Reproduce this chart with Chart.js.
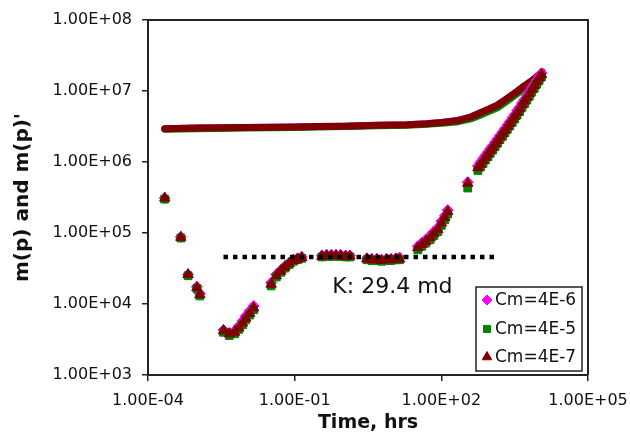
<!DOCTYPE html>
<html>
<head>
<meta charset="utf-8">
<script src="https://cdn.jsdelivr.net/npm/chart.js@4.4.1/dist/chart.umd.min.js"></script>
<style>
  html, body { margin: 0; padding: 0; background: #fff; }
  #wrap { width: 630px; height: 442px; }
</style>
</head>
<body>
<div id="wrap"><canvas id="chart" width="630" height="442"></canvas></div>
<script>
// axis ticks
const xTickValues = [1e-4, 1e-1, 1e2, 1e5];
const xTickLabels = ['1.00E-04', '1.00E-01', '1.00E+02', '1.00E+05'];
const yTickValues = [1e3, 1e4, 1e5, 1e6, 1e7, 1e8];
const yTickLabels = ['1.00E+03', '1.00E+04', '1.00E+05', '1.00E+06', '1.00E+07', '1.00E+08'];

const seriesNames = ['Cm=4E-6', 'Cm=4E-5', 'Cm=4E-7'];

// m(p) vs time
const pressureTime = [2.2e-4, 1e-3, 1e-2, 0.1, 0.3, 1, 5, 20, 50, 100, 200, 400, 620, 900, 1400, 2200, 3500, 5000, 7400, 11500];
const pressureCm6 = [2.95e6, 3.0e6, 3.05e6, 3.1e6, 3.15e6, 3.2e6, 3.3e6, 3.35e6, 3.45e6, 3.6e6, 3.8e6, 4.3e6, 4.9e6, 5.5e6, 6.3e6, 7.8e6, 9.8e6, 1.18e7, 1.42e7, 1.86e7];
const pressureCm5 = [2.9e6, 2.95e6, 3.0e6, 3.05e6, 3.1e6, 3.15e6, 3.25e6, 3.3e6, 3.4e6, 3.5e6, 3.65e6, 4.05e6, 4.55e6, 5.1e6, 5.8e6, 7.2e6, 9.1e6, 1.1e7, 1.33e7, 1.74e7];
const pressureCm7 = [2.95e6, 3.0e6, 3.05e6, 3.1e6, 3.15e6, 3.2e6, 3.3e6, 3.35e6, 3.45e6, 3.6e6, 3.8e6, 4.3e6, 4.9e6, 5.5e6, 6.3e6, 7.8e6, 9.8e6, 1.18e7, 1.42e7, 1.86e7];

// m(p)' vs time
const derivTime = [
  2.2e-4, 4.7e-4, 6.6e-4, 1.0e-3, 1.15e-3,
  3.5e-3, 4.6e-3, 5.9e-3, 7.2e-3, 8.6e-3, 1.0e-2, 1.2e-2, 1.45e-2,
  0.033, 0.042, 0.052, 0.063, 0.077, 0.095, 0.115, 0.14,
  0.36, 0.45, 0.56, 0.7, 0.87, 1.1, 1.35,
  3.0, 3.8, 4.8, 6.0, 7.5, 9.4, 11.8, 14,
  33, 40, 48, 59, 70, 85, 100, 118, 135,
  347, 560, 630, 710, 800, 900, 1000, 1120, 1260, 1410, 1580, 1780, 2000, 2240, 2510,
  2820, 3160, 3550, 3980, 4470, 5010, 5620, 6310, 7080, 7940, 8910, 10000, 11200
];
const derivCm6 = [
  3.1e5, 8.8e4, 2.6e4, 1.75e4, 1.4e4,
  4.3e3, 3.9e3, 4.2e3, 4.9e3, 5.8e3, 6.8e3, 8.0e3, 9.4e3,
  2.0e4, 2.6e4, 3.0e4, 3.4e4, 3.8e4, 4.2e4, 4.4e4, 4.6e4,
  4.8e4, 4.9e4, 4.9e4, 4.9e4, 4.9e4, 4.8e4, 4.8e4,
  4.4e4, 4.3e4, 4.3e4, 4.2e4, 4.3e4, 4.3e4, 4.4e4, 4.5e4,
  6.5e4, 7.3e4, 8.1e4, 9.2e4, 1.05e5, 1.2e5, 1.47e5, 1.75e5, 2.1e5,
  5.2e5, 8.8e5, 9.9e5, 1.11e6, 1.24e6, 1.38e6, 1.54e6, 1.7e6, 1.91e6, 2.12e6, 2.38e6, 2.65e6, 2.97e6, 3.33e6, 3.7e6,
  4.18e6, 4.65e6, 5.3e6, 5.9e6, 6.75e6, 7.6e6, 8.55e6, 9.7e6, 1.1e7, 1.24e7, 1.42e7, 1.6e7, 1.78e7
];
const derivCm5 = [
  3.0e5, 8.5e4, 2.5e4, 1.65e4, 1.3e4,
  4.0e3, 3.6e3, 3.8e3, 4.4e3, 5.1e3, 6.0e3, 7.0e3, 8.3e3,
  1.8e4, 2.4e4, 2.8e4, 3.2e4, 3.6e4, 4.0e4, 4.2e4, 4.4e4,
  4.6e4, 4.7e4, 4.7e4, 4.7e4, 4.7e4, 4.6e4, 4.6e4,
  4.2e4, 4.1e4, 4.1e4, 4.0e4, 4.1e4, 4.1e4, 4.2e4, 4.2e4,
  5.8e4, 6.5e4, 7.2e4, 8.1e4, 9.2e4, 1.05e5, 1.28e5, 1.53e5, 1.85e5,
  4.3e5, 7.6e5, 8.5e5, 9.5e5, 1.07e6, 1.19e6, 1.33e6, 1.47e6, 1.65e6, 1.84e6, 2.07e6, 2.3e6, 2.58e6, 2.9e6, 3.22e6,
  3.63e6, 4.05e6, 4.6e6, 5.15e6, 5.9e6, 6.6e6, 7.5e6, 8.5e6, 9.7e6, 1.09e7, 1.25e7, 1.41e7, 1.58e7
];
const derivCm7 = [
  3.1e5, 8.7e4, 2.6e4, 1.7e4, 1.35e4,
  4.2e3, 3.8e3, 4.0e3, 4.6e3, 5.4e3, 6.3e3, 7.4e3, 8.8e3,
  1.9e4, 2.5e4, 2.9e4, 3.3e4, 3.7e4, 4.1e4, 4.3e4, 4.5e4,
  4.7e4, 4.8e4, 4.8e4, 4.8e4, 4.8e4, 4.7e4, 4.7e4,
  4.3e4, 4.2e4, 4.2e4, 4.1e4, 4.2e4, 4.2e4, 4.3e4, 4.3e4,
  6.2e4, 6.9e4, 7.6e4, 8.6e4, 9.8e4, 1.12e5, 1.38e5, 1.65e5, 2.0e5,
  5.0e5, 8.3e5, 9.3e5, 1.04e6, 1.17e6, 1.3e6, 1.45e6, 1.6e6, 1.8e6, 2.0e6, 2.25e6, 2.5e6, 2.8e6, 3.15e6, 3.5e6,
  3.95e6, 4.4e6, 5.0e6, 5.6e6, 6.4e6, 7.2e6, 8.1e6, 9.2e6, 1.05e7, 1.18e7, 1.35e7, 1.52e7, 1.7e7
];

// radial flow stabilization line
const stabTime = [3.5e-3, 1300];
const stabValue = [4.6e4, 4.6e4];
const stabLabel = 'K: 29.4 md';
const stabLabelAt = { x: 10, y: 1.43e4 };

const colors = ['#ff00ff', '#008000', '#800000'];
const markers = [
  { style: 'rectRot', radius: 5.5 },
  { style: 'rect', radius: 5.5 },
  { style: 'triangle', radius: 6 }
];
const FONT = 'DejaVu Sans';

function toPoints(xs, ys) {
    return xs.map((x, i) => ({ x: x, y: ys[i] }));
}

function pressureSet(values, i, order) {
    return {
        data: toPoints(pressureTime, values),
        showLine: true,
        borderColor: colors[i],
        borderWidth: 7,
        borderJoinStyle: 'round',
        borderCapStyle: 'round',
        pointRadius: 0,
        tension: 0,
        order: order
    };
}

function derivSet(values, i, order) {
    return {
        label: seriesNames[i],
        data: toPoints(derivTime, values),
        pointStyle: markers[i].style,
        pointRadius: markers[i].radius,
        backgroundColor: colors[i],
        borderColor: colors[i],
        borderWidth: 1,
        order: order
    };
}

// frame, annotation and legend box
const decor = {
    id: 'decor',
    beforeDatasetsDraw(chart) {
        const { ctx, chartArea: a } = chart;
        ctx.save();
        ctx.strokeStyle = '#222';
        ctx.lineWidth = 2;
        ctx.beginPath();
        ctx.moveTo(a.left, a.top);
        ctx.lineTo(a.right, a.top);
        ctx.lineTo(a.right, a.bottom);
        ctx.stroke();
        ctx.restore();
    },
    afterDatasetsDraw(chart) {
        const { ctx, chartArea: a, scales } = chart;
        ctx.save();
        ctx.fillStyle = '#111';
        ctx.font = '22px "' + FONT + '"';
        ctx.textAlign = 'center';
        ctx.textBaseline = 'alphabetic';
        ctx.fillText(stabLabel, scales.x.getPixelForValue(stabLabelAt.x), scales.y.getPixelForValue(stabLabelAt.y));

        const w = 106, h = 84;
        const left = a.right - 6 - w, top = a.bottom - 4 - h;
        ctx.fillStyle = '#fff';
        ctx.fillRect(left, top, w, h);
        ctx.strokeStyle = '#222';
        ctx.lineWidth = 1.5;
        ctx.strokeRect(left, top, w, h);

        const rows = [13, 42, 70];
        ctx.font = '17px "' + FONT + '"';
        ctx.textAlign = 'left';
        ctx.textBaseline = 'middle';
        rows.forEach((dy, i) => {
            ctx.fillStyle = colors[i];
            ctx.strokeStyle = colors[i];
            ctx.lineWidth = 1;
            Chart.helpers.drawPoint(ctx, { pointStyle: markers[i].style, radius: markers[i].radius - 0.5, rotation: 0, borderWidth: 1 }, left + 11, top + dy);
            ctx.fillStyle = '#111';
            ctx.fillText(seriesNames[i], left + 19, top + dy + 1);
        });
        ctx.restore();
    }
};

const ctx = document.getElementById('chart').getContext('2d');
new Chart(ctx, {
    type: 'scatter',
    data: {
        datasets: [
            {
                data: toPoints(stabTime, stabValue),
                showLine: true,
                borderColor: '#000',
                borderWidth: 4.5,
                borderDash: [4.5, 5],
                borderCapStyle: 'butt',
                pointRadius: 0,
                order: 0
            },
            derivSet(derivCm7, 2, 1),
            derivSet(derivCm5, 1, 2),
            derivSet(derivCm6, 0, 3),
            pressureSet(pressureCm7, 2, 4),
            pressureSet(pressureCm5, 1, 5),
            pressureSet(pressureCm6, 0, 6)
        ]
    },
    options: {
        responsive: false,
        animation: false,
        layout: { padding: { top: 20, right: 42, left: 0, bottom: 0 } },
        plugins: {
            legend: { display: false },
            tooltip: { enabled: false }
        },
        scales: {
            x: {
                type: 'logarithmic',
                min: 1e-4,
                max: 1e5,
                afterBuildTicks: (scale) => { scale.ticks = xTickValues.map(v => ({ value: v })); },
                afterFit: (scale) => {
                    scale.height = 67;
                    scale.paddingLeft = 0;
                    scale.paddingRight = 0;
                },
                ticks: {
                    autoSkip: false,
                    maxRotation: 0,
                    padding: 10,
                    color: '#111',
                    font: { family: FONT, size: 16 },
                    callback: (value, index) => xTickLabels[index]
                },
                grid: { drawOnChartArea: false, tickLength: 6, color: '#222', lineWidth: 1.5 },
                border: { color: '#222', width: 2 },
                title: {
                    display: true,
                    text: 'Time, hrs',
                    color: '#111',
                    font: { family: FONT, size: 19, weight: 'bold' },
                    padding: { top: 0, bottom: 8 }
                }
            },
            y: {
                type: 'logarithmic',
                min: 1e3,
                max: 1e8,
                afterBuildTicks: (scale) => { scale.ticks = yTickValues.map(v => ({ value: v })); },
                afterFit: (scale) => {
                    scale.width = 148;
                    scale.paddingTop = 0;
                    scale.paddingBottom = 0;
                },
                ticks: {
                    autoSkip: false,
                    padding: 10,
                    color: '#111',
                    font: { family: FONT, size: 16 },
                    callback: (value, index) => yTickLabels[index]
                },
                grid: { drawOnChartArea: false, tickLength: 6, color: '#222', lineWidth: 1.5 },
                border: { color: '#222', width: 2 },
                title: {
                    display: true,
                    text: "m(p) and m(p)'",
                    color: '#111',
                    font: { family: FONT, size: 20, weight: 'bold' },
                    padding: { top: 11, bottom: 0 }
                }
            }
        }
    },
    plugins: [decor]
});
</script>
</body>
</html>
